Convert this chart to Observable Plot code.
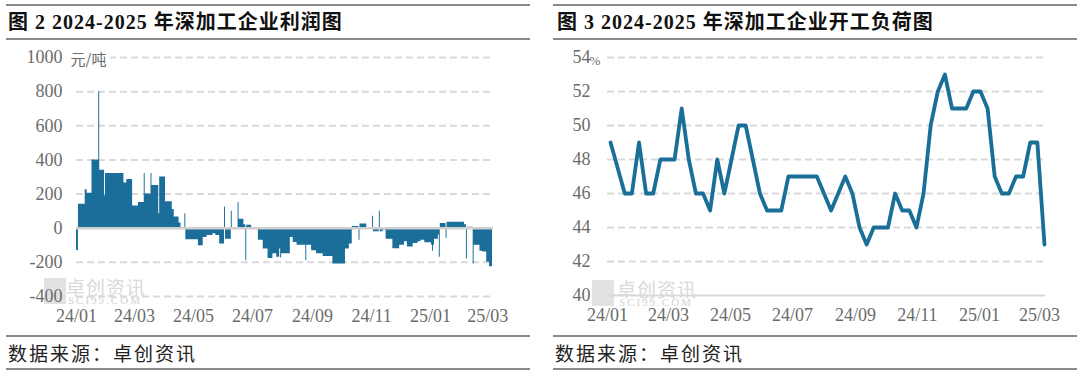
<!DOCTYPE html>
<html><head><meta charset="utf-8">
<script src="https://cdn.jsdelivr.net/npm/d3@7"></script>
<script src="https://cdn.jsdelivr.net/npm/@observablehq/plot@0.6"></script>
<style>
body{margin:0;background:#fff;}
#wrap{position:relative;width:1080px;height:374px;background:#fff;overflow:hidden;}
.hl{position:absolute;height:2px;background:#8a8a8a;}
.title{position:absolute;top:10px;font-family:"Liberation Serif","Noto Sans CJK SC",serif;font-weight:bold;font-size:20px;line-height:24px;color:#111;letter-spacing:1px;white-space:nowrap;}
.src{position:absolute;top:341px;font-family:"Noto Sans CJK SC",sans-serif;font-size:19px;line-height:24px;color:#222;letter-spacing:2px;white-space:nowrap;}
.chart{position:absolute;top:42px;}
.wmicon{position:absolute;width:22px;height:26px;background:#e2e2e2;}
.wmtxt{position:absolute;font-family:"Noto Sans CJK SC",sans-serif;font-size:19px;line-height:20px;color:#dadada;letter-spacing:1px;white-space:nowrap;}
.wmsci{position:absolute;font-family:"Liberation Serif",serif;font-size:11px;line-height:12px;color:#d2d2d2;letter-spacing:2px;white-space:nowrap;}
</style></head>
<body>
<div id="wrap">
  <div class="hl" style="left:6px;top:4px;width:524px"></div>
  <div class="title" style="left:8px">图 2 2024-2025 年深加工企业利润图</div>
  <div class="hl" style="left:6px;top:38px;width:524px"></div>
  <div class="wmicon" style="left:44px;top:278px"></div>
  <div class="wmtxt" style="left:66px;top:277px">卓创资讯</div>
  <div class="wmsci" style="left:68px;top:294px">SCI99.COM</div>
  <div class="chart" id="left" style="left:0px"></div>
  <div class="hl" style="left:6px;top:335px;width:524px"></div>
  <div class="src" style="left:8px">数据来源：卓创资讯</div>
  <div class="hl" style="left:6px;top:368px;width:524px"></div>

  <div class="hl" style="left:553px;top:4px;width:524px"></div>
  <div class="title" style="left:557px">图 3 2024-2025 年深加工企业开工负荷图</div>
  <div class="hl" style="left:553px;top:38px;width:524px"></div>
  <div class="wmicon" style="left:592px;top:280px"></div>
  <div class="wmtxt" style="left:617px;top:279px">卓创资讯</div>
  <div class="wmsci" style="left:619px;top:296px">SCI99.COM</div>
  <div class="chart" id="right" style="left:545px"></div>
  <div class="hl" style="left:553px;top:335px;width:524px"></div>
  <div class="src" style="left:555px">数据来源：卓创资讯</div>
  <div class="hl" style="left:553px;top:368px;width:524px"></div>
</div>
<script>
// ---------- data ----------
const xDomain = ["2024-01-01", "2025-03-07"];
const xTicks = ["2024-01-01","2024-03-01","2024-05-01","2024-07-01","2024-09-01","2024-11-01","2025-01-01","2025-03-01"];
const xTickLabels = ["24/01","24/03","24/05","24/07","24/09","24/11","25/01","25/03"];

// Profit (元/吨): change points of a daily step series
const profitDates = [
"2024-01-01","2024-01-03","2024-01-10","2024-01-12","2024-01-17","2024-01-24","2024-01-25","2024-01-30","2024-01-31",
"2024-02-19","2024-02-22","2024-02-28","2024-03-05","2024-03-11","2024-03-12","2024-03-18","2024-03-19","2024-03-26",
"2024-03-27","2024-04-02","2024-04-09","2024-04-11","2024-04-16","2024-04-18","2024-04-22","2024-04-23","2024-05-06",
"2024-05-11","2024-05-15","2024-05-21","2024-05-24","2024-05-28","2024-06-02","2024-06-03","2024-06-09","2024-06-10",
"2024-06-16","2024-06-17","2024-06-22","2024-06-24","2024-06-25","2024-06-30","2024-07-07","2024-07-12","2024-07-17",
"2024-07-22","2024-07-26","2024-07-29","2024-07-30","2024-07-31","2024-08-09","2024-08-12","2024-08-16","2024-08-25",
"2024-08-26","2024-08-31","2024-09-05","2024-09-12","2024-09-22","2024-10-05","2024-10-09","2024-10-12","2024-10-19",
"2024-10-20","2024-10-27","2024-11-02","2024-11-03","2024-11-09","2024-11-10","2024-11-13","2024-11-16","2024-11-23",
"2024-11-30","2024-12-05","2024-12-08","2024-12-14","2024-12-19","2024-12-22","2024-12-26","2025-01-02","2025-01-03",
"2025-01-04","2025-01-05","2025-01-09","2025-01-10","2025-01-11","2025-01-17","2025-01-18","2025-02-05","2025-02-07",
"2025-02-08","2025-02-14","2025-02-15","2025-02-21","2025-02-24","2025-02-28","2025-03-03","2025-03-06"];
const profitValues = [
-130,140,225,205,400,800,340,190,320,
265,285,130,150,320,200,320,250,85,
300,155,110,65,30,0,85,-68,-103,
-55,-42,-32,-42,-93,125,-64,100,-5,
150,52,20,-190,17,-8,-70,-122,-177,
-150,-170,-122,-175,-150,-55,-83,-100,-190,
-100,-132,-150,-165,-210,-122,-93,10,-70,
25,-5,70,-20,100,-20,-10,-65,-120,
-100,-80,-110,-90,-80,-70,-85,-100,-135,
-100,-65,-40,-170,28,-60,35,20,-180,
5,-210,-100,-135,-140,-200,-225,-225];
const profitTicks = [-400,-200,0,200,400,600,800,1000];

// Operating load (%), weekly
const loadDates = [
"2024-01-04","2024-01-11","2024-01-18","2024-01-25","2024-02-01","2024-02-08","2024-02-15","2024-02-22","2024-02-29",
"2024-03-07","2024-03-14","2024-03-21","2024-03-28","2024-04-04","2024-04-11","2024-04-18","2024-04-25","2024-05-02",
"2024-05-09","2024-05-16","2024-05-23","2024-05-30","2024-06-06","2024-06-13","2024-06-20","2024-06-27","2024-07-04",
"2024-07-11","2024-07-18","2024-07-25","2024-08-01","2024-08-08","2024-08-15","2024-08-22","2024-08-29","2024-09-05",
"2024-09-12","2024-09-19","2024-09-26","2024-10-03","2024-10-10","2024-10-17","2024-10-24","2024-10-31","2024-11-07",
"2024-11-14","2024-11-21","2024-11-28","2024-12-05","2024-12-12","2024-12-19","2024-12-26","2025-01-02","2025-01-09",
"2025-01-16","2025-01-23","2025-01-30","2025-02-06","2025-02-13","2025-02-20","2025-02-27","2025-03-06"];
const loadValues = [
49,47.5,46,46,49,46,46,48,48,
48,51,48,46,46,45,48,46,48,
50,50,48,46,45,45,45,47,47,
47,47,47,46,45,46,47,46,44,
43,44,44,44,46,45,45,44,46,
50,52,53,51,51,51,52,52,51,
47,46,46,47,47,49,49,43];
const loadTicks = [40,42,44,46,48,50,52,54];

// ---------- build ----------
const barColor = "#1b6d9a";
const lineColor = "#1a6f98";
const tickColor = "#6b6b6b";
const gridStyle = {stroke:"#d9d9d9", strokeWidth:2, strokeDasharray:"7,4"};
const dom = xDomain.map(d => new Date(d));
const xt = xTicks.map(d => new Date(d));
const fmtX = d => xTickLabels[xt.findIndex(t => +t === +d)];
const profitData = profitDates.map((d,i) => ({date:new Date(d), value:profitValues[i]}));
const loadData = loadDates.map((d,i) => ({date:new Date(d), value:loadValues[i]}));
const baseStyle = {background:"transparent", fontFamily:"'Liberation Serif', serif", fontSize:"18px", color:tickColor, overflow:"visible"};

const left = Plot.plot({
  width:540, height:293, marginLeft:76, marginRight:47, marginTop:15, marginBottom:39,
  style: baseStyle,
  x:{type:"utc", domain:dom},
  y:{domain:[-400,1000]},
  marks:[
    Plot.ruleY(profitTicks.filter(d => d !== 0), gridStyle),
    Plot.areaY(profitData, {x:"date", y:"value", curve:"step-after", fill:barColor}),
    Plot.ruleY([0], {stroke:"#cfcfcf", strokeWidth:2.5}),
    Plot.axisY({ticks:profitTicks, tickSize:0, tickPadding:14, tickFormat:d => String(d), label:null, fontSize:18, fill:tickColor}),
    Plot.axisX({ticks:xt, tickSize:0, tickPadding:13, tickFormat:fmtX, label:null, fontSize:18, fill:tickColor}),
    Plot.text(["元/吨"], {frameAnchor:"top-left", textAnchor:"start", lineAnchor:"middle", dx:-6, dy:3,
      fontSize:15, fontFamily:"'Noto Sans CJK SC', sans-serif", fill:tickColor, stroke:"white", strokeWidth:10})
  ]
});
document.getElementById("left").appendChild(left);

const right = Plot.plot({
  width:535, height:293, marginLeft:62, marginRight:35, marginTop:15, marginBottom:40,
  style: baseStyle,
  x:{type:"utc", domain:dom},
  y:{domain:[40,54]},
  marks:[
    Plot.ruleY(loadTicks.filter(d => d !== 40), gridStyle),
    Plot.ruleY([40], {stroke:"#d9d9d9", strokeWidth:2}),
    Plot.line(loadData, {x:"date", y:"value", stroke:lineColor, strokeWidth:3.8}),
    Plot.axisY({ticks:loadTicks, tickSize:0, tickPadding:17, tickFormat:d => String(d), label:null, fontSize:18, fill:tickColor}),
    Plot.axisX({ticks:xt, tickSize:0, tickPadding:13, tickFormat:fmtX, label:null, fontSize:18, fill:tickColor}),
    Plot.text(["%"], {frameAnchor:"top-left", textAnchor:"start", lineAnchor:"middle", dx:-18, dy:3,
      fontSize:13, fontFamily:"'Liberation Serif', serif", fill:tickColor})
  ]
});
document.getElementById("right").appendChild(right);
</script>
</body></html>
